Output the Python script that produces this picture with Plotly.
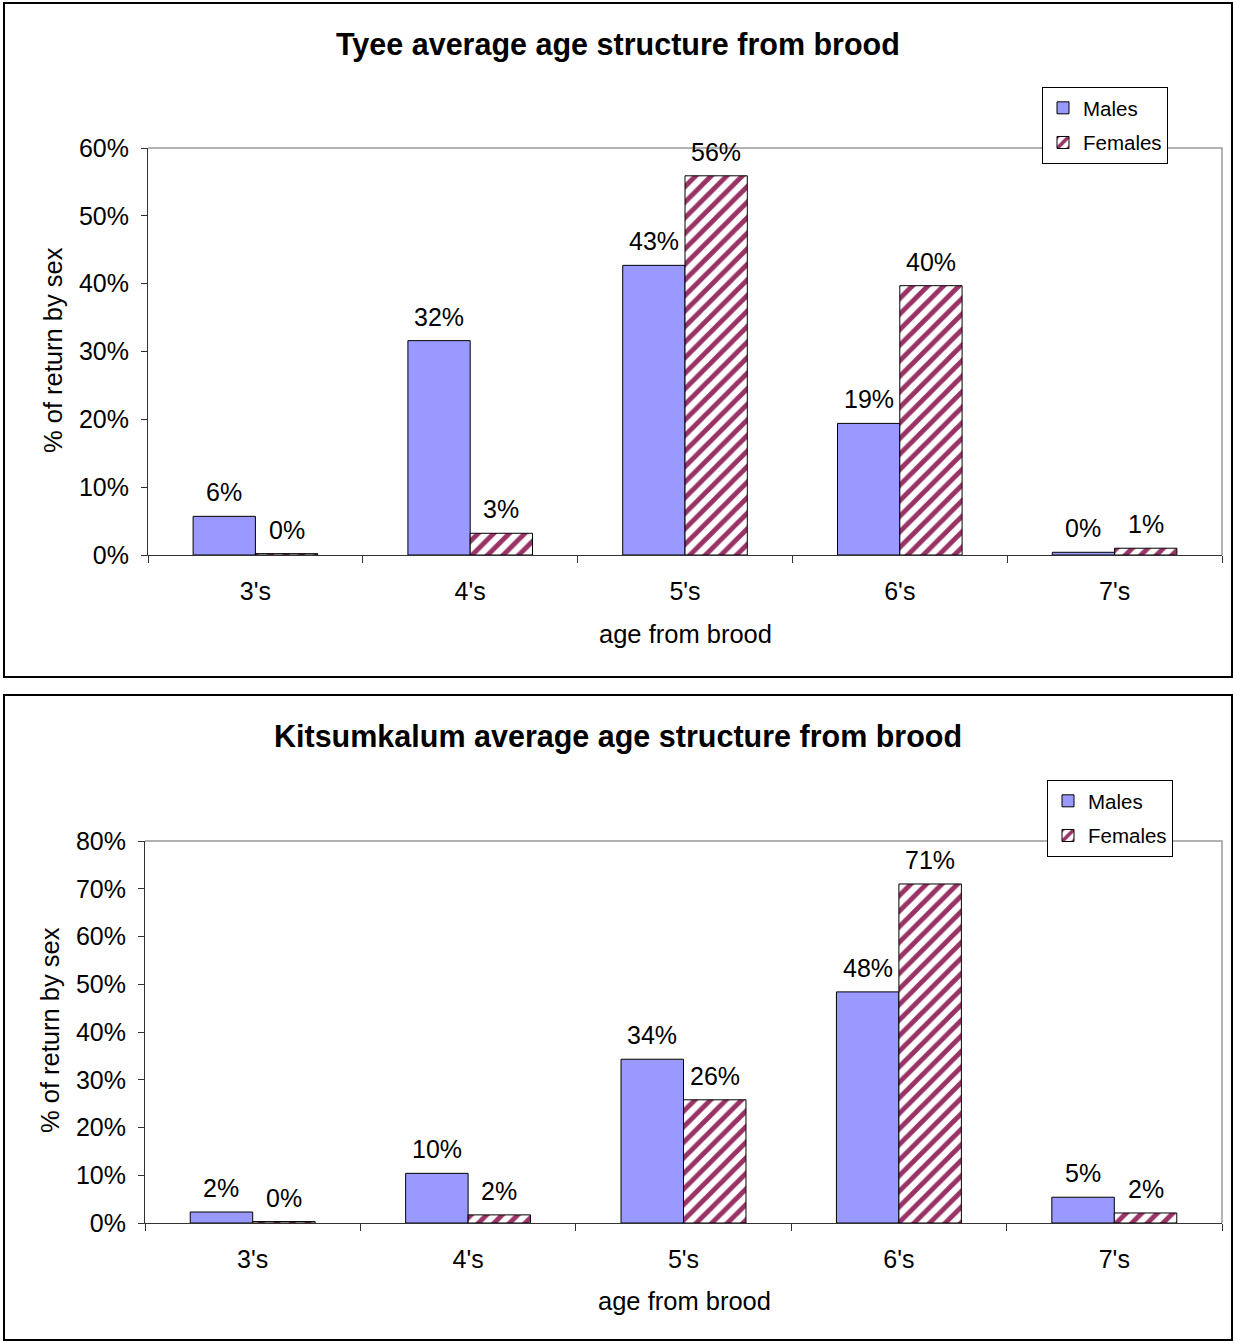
import plotly.graph_objects as go

# Age classes (years from brood)
ages = ["3's", "4's", "5's", "6's", "7's"]

# Tyee: share of return by sex
tyee_males = [0.057, 0.316, 0.427, 0.194, 0.004]
tyee_females = [0.002, 0.032, 0.559, 0.397, 0.010]

# Kitsumkalum: share of return by sex
kits_males = [0.023, 0.104, 0.343, 0.484, 0.054]
kits_females = [0.003, 0.017, 0.258, 0.710, 0.021]

W, H = 1233, 1342
FONT = "Liberation Sans, Arial, sans-serif"
MALE_COLOR = "#9999FF"
FEMALE_COLOR = "#993366"
AXIS_COLOR = "#333333"
BORDER_GRAY = "#999999"
BARGAP = 0.42


def px_x(p):
    return p / W


def px_y(p):
    return 1 - p / H


# Plot-area geometry (paper fractions) for each chart
panels = [
    dict(title="Tyee average age structure from brood",
         males=tyee_males, females=tyee_females, ymax=0.6,
         x0=px_x(148), x1=px_x(1222), ytop=px_y(148), ybot=px_y(555),
         frame=(4, 3, 1232, 677), title_y=45,
         xtitle=(685, 634), ytitle=(53, 350), legend=(1042, 87)),
    dict(title="Kitsumkalum average age structure from brood",
         males=kits_males, females=kits_females, ymax=0.8,
         x0=px_x(145), x1=px_x(1222), ytop=px_y(841), ybot=px_y(1223),
         frame=(4, 695, 1232, 1340), title_y=736,
         xtitle=(684, 1301), ytitle=(50, 1030), legend=(1047, 780)),
]

fig = go.Figure()
layout = dict(
    width=W, height=H, autosize=False,
    margin=dict(l=0, r=0, t=0, b=0, pad=0, autoexpand=False),
    paper_bgcolor="white", plot_bgcolor="white",
    font=dict(family=FONT, size=25, color="black"),
    barmode="group", bargap=BARGAP, bargroupgap=0,
    showlegend=True,
)
shapes = []
annotations = []

for i, p in enumerate(panels):
    n = "" if i == 0 else str(i + 1)
    xa, ya = "x" + n, "y" + n
    leg = "legend" + n

    fig.add_trace(go.Bar(
        x=ages, y=p["males"], name="Males", xaxis=xa, yaxis=ya,
        legend=leg, legendgroup=f"m{i}",
        marker=dict(color=MALE_COLOR, line=dict(color="black", width=1)),
        hoverinfo="x+y+name",
    ))
    fig.add_trace(go.Bar(
        x=ages, y=p["females"], name="Females", xaxis=xa, yaxis=ya,
        legend=leg, legendgroup=f"f{i}",
        marker=dict(
            color=FEMALE_COLOR,
            line=dict(color="black", width=1),
            pattern=dict(shape="/", fgcolor=FEMALE_COLOR, bgcolor="white",
                         size=11, solidity=0.45, fillmode="replace"),
        ),
        hoverinfo="x+y+name",
    ))

    layout["xaxis" + n] = dict(
        domain=[p["x0"], p["x1"]], anchor=ya, type="category",
        automargin=False,
        showline=True, linecolor=AXIS_COLOR, linewidth=1,
        ticks="outside", tickson="boundaries", ticklen=7,
        tickcolor=AXIS_COLOR, showgrid=False,
        tickfont=dict(size=25), ticklabelstandoff=14,
    )
    layout["yaxis" + n] = dict(
        domain=[p["ybot"], p["ytop"]], anchor=xa,
        automargin=False,
        range=[0, p["ymax"]], dtick=0.1, tickformat=".0%",
        showline=True, linecolor=AXIS_COLOR, linewidth=1,
        ticks="outside", ticklen=6, tickcolor=AXIS_COLOR,
        showgrid=False, zeroline=False,
        tickfont=dict(size=25), ticklabelstandoff=7,
    )
    lx, ly = p["legend"]
    layout[leg] = dict(
        x=px_x(lx), y=px_y(ly), xanchor="left", yanchor="top",
        bgcolor="white", bordercolor="black", borderwidth=1,
        font=dict(size=20.5), tracegroupgap=5, traceorder="grouped",
        itemwidth=30, itemclick=False, itemdoubleclick=False,
    )

    # Chart frame
    fx0, fy0, fx1, fy1 = p["frame"]
    shapes.append(dict(type="rect", xref="paper", yref="paper",
                       x0=px_x(fx0), x1=px_x(fx1), y0=px_y(fy1), y1=px_y(fy0),
                       line=dict(color="black", width=2), layer="below"))
    # Plot-area border (top and right)
    shapes.append(dict(type="path", xref="paper", yref="paper",
                       path=f"M {p['x0']} {p['ytop']} L {p['x1']} {p['ytop']} L {p['x1']} {p['ybot']}",
                       line=dict(color=BORDER_GRAY, width=1.5), layer="below"))

    # Chart title
    annotations.append(dict(text=f"<b>{p['title']}</b>", xref="paper", yref="paper",
                            x=px_x(618), y=px_y(p["title_y"]),
                            xanchor="center", yanchor="middle", showarrow=False,
                            font=dict(size=30.5)))
    # Axis titles
    tx, ty = p["xtitle"]
    annotations.append(dict(text="age from brood", xref="paper", yref="paper",
                            x=px_x(tx), y=px_y(ty), xanchor="center", yanchor="middle",
                            showarrow=False, font=dict(size=25.5)))
    tx, ty = p["ytitle"]
    annotations.append(dict(text="% of return by sex", xref="paper", yref="paper",
                            x=px_x(tx), y=px_y(ty), xanchor="center", yanchor="middle",
                            textangle=-90, showarrow=False, font=dict(size=25.5)))

    # Value labels above each bar
    cat_px = (p["x1"] - p["x0"]) * W / len(ages)
    bar_px = cat_px * (1 - BARGAP) / 2
    for a, mv, fv in zip(ages, p["males"], p["females"]):
        for v, sh in ((mv, -bar_px / 2), (fv, bar_px / 2)):
            annotations.append(dict(text=f"{round(v * 100):d}%", xref=xa, yref=ya,
                                    x=a, y=v, xshift=sh, yshift=8,
                                    xanchor="center", yanchor="bottom",
                                    showarrow=False, font=dict(size=25)))

layout["shapes"] = shapes
layout["annotations"] = annotations
fig.update_layout(**layout)

fig.write_html("out.html")
